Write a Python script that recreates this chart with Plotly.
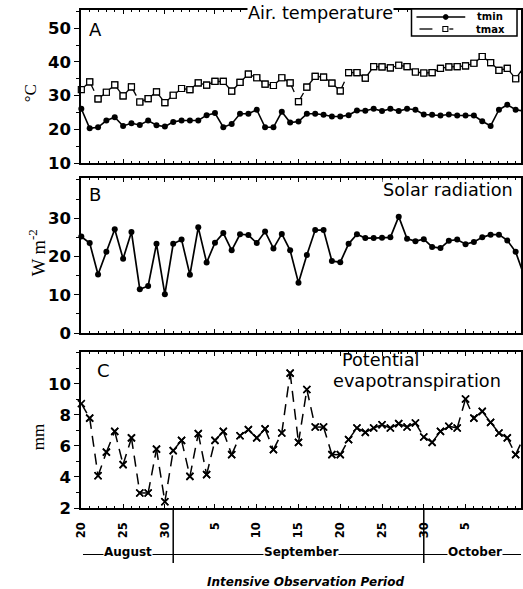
import datetime as dt
import plotly.graph_objects as go
from plotly.subplots import make_subplots

# ---------------- data (day index 0 = 20 August) ----------------
start_date = dt.date(2000, 8, 20)
days = list(range(54))

tmin = [26.1, 20.3, 20.6, 22.6, 23.6, 21.0, 21.8, 21.3, 22.6, 21.2,
        20.8, 22.2, 22.6, 22.6, 22.6, 24.2, 24.8, 20.6, 21.6, 24.6,
        24.6, 25.8, 20.6, 20.6, 25.2, 22.0, 22.3, 24.6, 24.6, 24.3,
        23.8, 23.8, 24.2, 25.6, 25.5, 26.1, 25.4, 26.1, 25.4, 26.1,
        25.8, 24.4, 24.3, 24.1, 24.4, 24.1, 24.1, 24.1, 22.4, 21.0,
        25.8, 27.3, 25.8, 25.4]
tmax = [31.8, 34.1, 29.0, 31.0, 33.2, 29.9, 32.6, 28.1, 29.1, 31.1,
        27.9, 30.1, 32.1, 31.8, 33.8, 33.1, 34.2, 34.2, 31.3, 33.9,
        36.4, 35.3, 33.4, 33.0, 35.3, 33.8, 28.2, 32.5, 35.7, 35.5,
        33.7, 31.4, 36.8, 36.8, 35.2, 38.6, 38.5, 38.2, 39.0, 38.6,
        37.0, 36.7, 36.8, 38.1, 38.5, 38.6, 38.8, 39.6, 41.6, 39.8,
        37.5, 38.1, 35.0, 38.5]
solar = [25.2, 23.5, 15.3, 21.2, 27.1, 19.4, 26.4, 11.4, 12.3, 23.3,
         10.1, 23.3, 24.4, 15.2, 27.6, 18.4, 23.6, 26.1, 21.6, 25.8,
         25.6, 23.5, 26.5, 22.1, 25.9, 21.6, 13.1, 20.4, 26.9, 26.9,
         18.8, 18.5, 23.3, 25.8, 24.8, 24.8, 24.9, 25.0, 30.4, 24.6,
         24.0, 24.5, 22.5, 22.2, 24.1, 24.4, 23.2, 23.8, 25.0, 25.7,
         25.7, 24.2, 21.2, 15.0]
pet = [8.73, 7.80, 4.08, 5.60, 6.94, 4.80, 6.52, 2.97, 2.97, 5.80,
       2.40, 5.70, 6.36, 4.04, 6.80, 4.15, 6.36, 6.94, 5.44, 6.66,
       7.05, 6.52, 7.10, 5.76, 6.84, 10.70, 6.23, 9.64, 7.22, 7.22,
       5.44, 5.44, 6.41, 7.16, 6.88, 7.16, 7.37, 7.16, 7.44, 7.22,
       7.48, 6.58, 6.23, 6.94, 7.27, 7.16, 9.03, 7.80, 8.23, 7.52,
       6.84, 6.52, 5.44, 6.60]

tick_days = [0, 5, 10, 16, 21, 26, 31, 36, 41, 46]
tick_labels = ["20", "25", "30", "5", "10", "15", "20", "25", "30", "5"]
month_names = ["August", "September", "October"]
series_names = ["tmin", "tmax"]

# days that close a month (31 Aug, 30 Sep)
month_end_days = [d for d in days
                  if (start_date + dt.timedelta(days=d + 1)).day == 1]

# ---------------- geometry helpers ----------------
W, H = 523, 589
ML, MR, MT, MB = 81, 0, 10, 81
PW, PH = W - ML - MR, H - MT - MB


def px(x):
    return (x - ML) / PW


def py(y):
    return (H - MB - y) / PH


def segments(x, y):
    """Split a polyline into independent segments so the dash restarts."""
    xs, ys = [], []
    for i in range(len(x) - 1):
        xs += [x[i], x[i + 1], None]
        ys += [y[i], y[i + 1], None]
    return xs, ys


fig = make_subplots(rows=3, cols=1)

# tmin
fig.add_trace(go.Scatter(
    x=days, y=tmin, mode="lines+markers", name=series_names[0],
    cliponaxis=False, showlegend=False,
    line=dict(color="black", width=1.6),
    marker=dict(symbol="circle", size=6, color="black")), row=1, col=1)
# tmax (dashed, dash restarting at each point)
sx, sy = segments(days, tmax)
fig.add_trace(go.Scatter(
    x=sx, y=sy, mode="lines+markers", name=series_names[1],
    cliponaxis=False, showlegend=False, connectgaps=False,
    line=dict(color="black", width=1.3, dash="10px,8px"),
    marker=dict(symbol="square", size=6, color="white",
                line=dict(color="black", width=1.2))), row=1, col=1)
# solar radiation
fig.add_trace(go.Scatter(
    x=days, y=solar, mode="lines+markers", showlegend=False, cliponaxis=False,
    line=dict(color="black", width=1.7),
    marker=dict(symbol="circle", size=6, color="black")), row=2, col=1)
# potential evapotranspiration
ex, ey = segments(days, pet)
fig.add_trace(go.Scatter(
    x=ex, y=ey, mode="lines+markers", showlegend=False, cliponaxis=False,
    connectgaps=False,
    line=dict(color="black", width=1.5, dash="11px,7px"),
    marker=dict(symbol="x-thin", size=7, color="black",
                line=dict(color="black", width=1.6))), row=3, col=1)

xcommon = dict(
    range=[-0.04, 52.64], showline=True, linecolor="black", linewidth=1.5,
    mirror="ticks", ticks="inside", ticklen=4, tickwidth=1, tickcolor="black",
    tickmode="array", tickvals=tick_days, ticktext=tick_labels,
    showgrid=False, zeroline=False,
    minor=dict(ticks="inside", ticklen=2.5, tickmode="linear", tick0=0,
               dtick=1, tickcolor="black", tickwidth=1, showgrid=False),
)
ycommon = dict(
    showline=True, linecolor="black", linewidth=1.5, mirror=True,
    ticks="outside", ticklen=5, tickwidth=1.2, tickcolor="black",
    showgrid=False, zeroline=False,
    tickfont=dict(family="DejaVu Sans", size=16.5, color="black",
                  weight="bold"),
)

fig.update_layout(
    xaxis=dict(xcommon, showticklabels=False),
    xaxis2=dict(xcommon, showticklabels=False),
    xaxis3=dict(xcommon, showticklabels=True, tickangle=-90,
                ticklabelstandoff=8,
                tickfont=dict(family="DejaVu Sans", size=11.5,
                              color="black", weight="bold")),
    yaxis=dict(ycommon, domain=[py(163), 1.0], range=[10, 55.4],
               tickvals=[10, 20, 30, 40, 50],
               minor=dict(ticks="outside", ticklen=3, dtick=5, tick0=0,
                          tickcolor="black", showgrid=False)),
    yaxis2=dict(ycommon, domain=[py(333), py(178)], range=[0, 40.5],
                tickvals=[0, 10, 20, 30],
                minor=dict(ticks="outside", ticklen=3, dtick=5, tick0=0,
                           tickcolor="black", showgrid=False)),
    yaxis3=dict(ycommon, domain=[0, py(352)], range=[2, 12.06],
                tickvals=[2, 4, 6, 8, 10],
                minor=dict(ticks="outside", ticklen=3, dtick=1, tick0=0,
                           tickcolor="black", showgrid=False)),
)

annotations = []


def note(text, x, y, size=17.7, xanchor="center", yanchor="middle",
         family="DejaVu Sans", angle=0, bg=None, **kw):
    d = dict(text=text, x=px(x), y=py(y), xref="paper", yref="paper",
             showarrow=False, xanchor=xanchor, yanchor=yanchor,
             textangle=angle,
             font=dict(family=family, size=size, color="black", **kw))
    if bg:
        d.update(bgcolor=bg, borderpad=0)
    annotations.append(d)


note("A", 87, 29.5, size=18, xanchor="left")
note("B", 87, 194, size=18, xanchor="left")
note("C", 95, 370, size=18, xanchor="left")
note("Air. temperature", 322, 13.5, bg="white")
note("Solar radiation", 450, 190, bg="white")
note("Potential", 341, 360, xanchor="left")
note("evapotranspiration", 332, 381, xanchor="left")
note("°C", 31, 93, size=17, family="Liberation Serif", angle=-90)
note("W m<sup>-2</sup>", 37, 253, size=18.5, family="Liberation Serif",
     angle=-90)
note("mm", 38, 437, size=17, family="Liberation Serif", angle=-90)

month_centres = [128.5, 301.5, 476.5]
for name, cx in zip(month_names, month_centres):
    note(name, cx, 552, size=12, bg="white", weight="bold")
note("Intensive Observation Period", 307, 581.5, size=12, weight="bold",
     style="italic")

shapes = [dict(type="line", xref="paper", yref="paper",
               x0=px(83), x1=px(523), y0=py(554.5), y1=py(554.5),
               line=dict(color="black", width=1.2), layer="below")]
for d in month_end_days:
    shapes.append(dict(type="line", xref="x3", yref="paper", x0=d, x1=d,
                       y0=0, y1=py(563), line=dict(color="black", width=1.5)))


# ---- hand-drawn legend box (compact, like the original) ----
def pshape(kind, x0, y0, x1, y1, **kw):
    shapes.append(dict(type=kind, xref="paper", yref="paper",
                       x0=px(x0), x1=px(x1), y0=py(y0), y1=py(y1),
                       layer="above", **kw))


pshape("rect", 413, 9, 519, 36, line=dict(color="black", width=1.5),
       fillcolor="white")
pshape("line", 418, 17, 467, 17, line=dict(color="black", width=1.5))
pshape("circle", 445, 14.6, 449.8, 19.4, line=dict(color="black", width=1),
       fillcolor="black")
pshape("line", 421, 29, 434, 29, line=dict(color="black", width=1.3))
pshape("line", 451, 29, 455, 29, line=dict(color="black", width=1.3))
pshape("rect", 444.5, 26.5, 449.5, 31.5, line=dict(color="black", width=1.1),
       fillcolor="white")
note(series_names[0], 492, 17, size=10, weight="bold")
note(series_names[1], 492, 29, size=10, weight="bold")

fig.update_layout(
    width=W, height=H,
    margin=dict(l=ML, r=MR, t=MT, b=MB, pad=0),
    paper_bgcolor="white", plot_bgcolor="white",
    font=dict(family="DejaVu Sans", color="black"),
    annotations=annotations, shapes=shapes,
    showlegend=False,
)

fig.write_html(
    "out.html",
    config={"displayModeBar": False},
    post_script="document.body.style.margin='0';"
                "document.body.style.overflow='hidden';",
)
